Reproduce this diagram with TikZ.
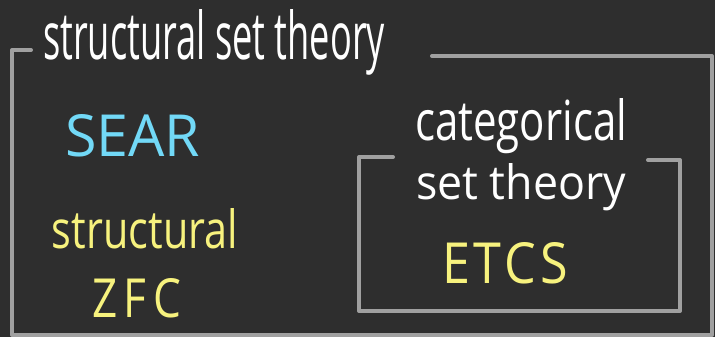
\documentclass[tikz,border=0pt]{standalone}
\usepackage{fontspec}
\usepackage{graphicx}
\setmainfont{Open Sans}
\definecolor{bg}{HTML}{2E2E2E}
\definecolor{frame}{HTML}{A0A0A0}
\definecolor{skyc}{HTML}{72D9F7}
\definecolor{yel}{HTML}{F7F27E}
\tikzset{
  lbl/.style={inner sep=0pt, outer sep=0pt, anchor=base west},
  frameline/.style={draw=frame, line width=4pt, line cap=round, line join=round}
}
\begin{document}
\begin{tikzpicture}[x=1pt,y=-1pt]
\fill[bg] (0,0) rectangle (715,337);
\useasboundingbox (0,0) rectangle (715,337);
% outer frame
\draw[frameline] (31,50) -- (12,50) -- (12,335) -- (712,335) -- (712,56) -- (432,56);
% inner frame
\draw[frameline] (393,157) -- (359,157) -- (359,311) -- (680,311) -- (680,160) -- (648,160);
% labels
\node[lbl, text=white] (sst) at (43,60) {\resizebox{342pt}{50pt}{structural set theory}};
\node[lbl, text=skyc] (sear) at (65,156) {\resizebox{135pt}{42pt}{SEAR}};
\node[lbl, text=yel] (structural) at (52,248) {\resizebox{186pt}{40pt}{structural}};
\node[lbl, text=yel] (zfc) at (92,317) {\resizebox{89pt}{39pt}{\addfontfeature{LetterSpace=15}ZFC}};
\node[lbl, text=white] (cat) at (415,140) {\resizebox{212pt}{42pt}{categorical}};
\node[lbl, text=white] (settheory) at (416,199) {\resizebox{210pt}{36pt}{set theory}};
\node[lbl, text=yel] (etcs) at (442,283) {\resizebox{126pt}{41pt}{\addfontfeature{LetterSpace=8}ETCS}};
\end{tikzpicture}
\end{document}
